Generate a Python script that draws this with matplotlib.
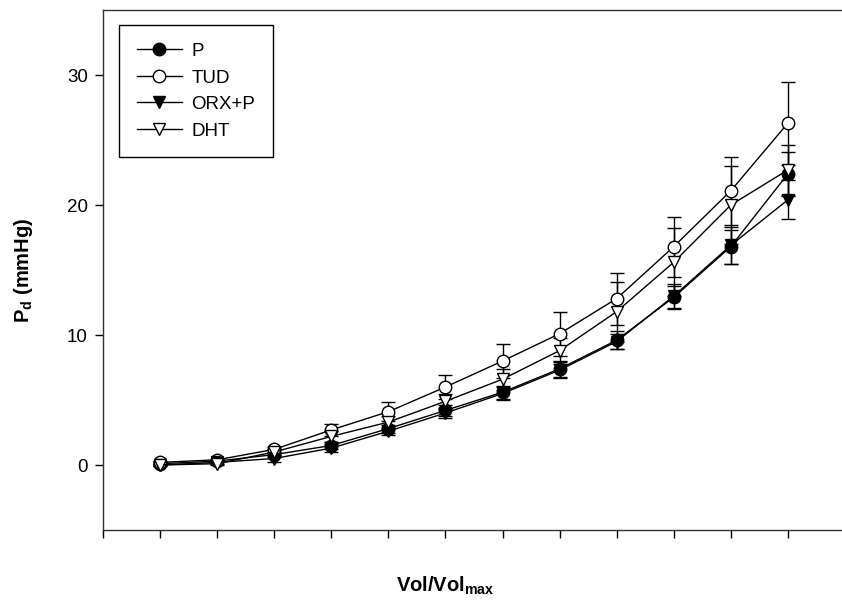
import matplotlib
matplotlib.use("Agg")
import matplotlib.pyplot as plt
from matplotlib.lines import Line2D
import numpy as np

plt.rcParams['font.family'] = ['Liberation Sans', 'DejaVu Sans']

# Datos
pasos = [1, 2, 3, 4, 5, 6, 7, 8, 9, 10, 11, 12]
p_media = [0.1, 0.3, 0.8, 1.5, 2.8, 4.2, 5.6, 7.4, 9.6, 12.9, 16.8, 22.4]
p_err = [0.1, 0.1, 0.2, 0.3, 0.3, 0.4, 0.5, 0.6, 0.7, 0.9, 1.3, 1.7]
tud_media = [0.2, 0.4, 1.2, 2.7, 4.1, 6.0, 8.0, 10.1, 12.8, 16.8, 21.1, 26.3]
tud_err = [0.1, 0.1, 0.2, 0.45, 0.75, 0.9, 1.3, 1.7, 2.0, 2.3, 2.6, 3.2]
orx_media = [0.0, 0.2, 0.5, 1.3, 2.6, 4.0, 5.5, 7.3, 9.5, 13.0, 16.9, 20.4]
orx_err = [0.1, 0.1, 0.3, 0.3, 0.3, 0.4, 0.5, 0.6, 0.6, 0.9, 1.4, 1.5]
dht_media = [0.0, 0.1, 1.0, 2.2, 3.3, 4.9, 6.6, 8.8, 11.8, 15.6, 20.0, 22.7]
dht_err = [0.1, 0.1, 0.2, 0.4, 0.5, 0.6, 0.8, 1.0, 2.3, 2.6, 3.0, 1.9]

series = [
    ('P', p_media, p_err, 'o', 'black'),
    ('TUD', tud_media, tud_err, 'o', 'white'),
    ('ORX+P', orx_media, orx_err, 'v', 'black'),
    ('DHT', dht_media, dht_err, 'v', 'white'),
]

fig = plt.figure(figsize=(8.42, 6.15), dpi=100)
ax = fig.add_axes([103 / 842, 85 / 615, 742 / 842, 520 / 615])

handles = []
for nombre, media, err, marca, relleno in series:
    ax.errorbar(pasos, media, yerr=err, color='black', lw=1, elinewidth=1,
                capsize=5, capthick=1, marker=marca, markersize=9,
                markerfacecolor=relleno, markeredgecolor='black',
                markeredgewidth=1)
    handles.append(Line2D([], [], color='black', lw=1, marker=marca, markersize=9,
                          markerfacecolor=relleno, markeredgecolor='black',
                          label=nombre))

ax.set_xlim(0, 13)
ax.set_ylim(-5, 35)
ax.set_xticks(np.arange(0, 13))
ax.set_xticklabels([])
ax.set_yticks([0, 10, 20, 30])
ax.tick_params(direction='out', length=6, width=1, labelsize=13.5, pad=5)
ax.spines['right'].set_visible(False)
for s in ['left', 'bottom', 'top']:
    ax.spines[s].set_linewidth(1)
    ax.spines[s].set_color('#333333')

ax.set_ylabel('P$_\\mathregular{d}$ (mmHg)', fontsize=14.5, fontweight='bold')
ax.yaxis.set_label_coords(-68 / 742, 0.5)
ax.set_xlabel('Vol/Vol$_\\mathregular{max}$', fontsize=14.5, fontweight='bold')
ax.xaxis.set_label_coords(342 / 742, -45 / 520)

leg = ax.legend(handles=handles, loc='upper left', bbox_to_anchor=(0.0216, 0.971),
                borderaxespad=0, fontsize=13.5, fancybox=False, edgecolor='black',
                framealpha=1, handlelength=2.4, handletextpad=0.5,
                labelspacing=0.5, borderpad=0.95)
leg.get_frame().set_linewidth(1)

fig.savefig('out.png', dpi=100)
